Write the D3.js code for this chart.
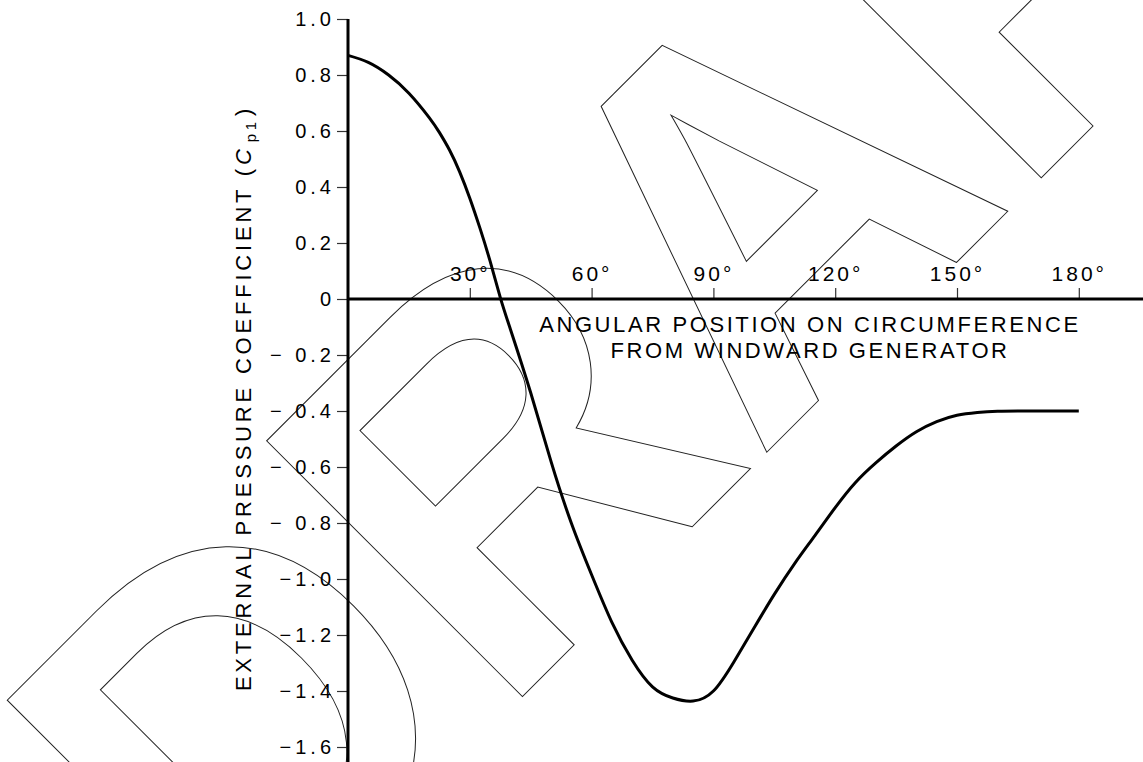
<!DOCTYPE html>
<html>
<head>
<meta charset="utf-8">
<script src="https://cdn.jsdelivr.net/npm/d3@7"></script>
<style>
  html, body { margin: 0; padding: 0; background: #fff; }
  svg { display: block; }
</style>
</head>
<body>
<svg id="chart" width="1143" height="762"></svg>
<script>
// ---- data ----
const angles = [0, 5, 10, 15, 20, 22.5, 25, 27.5, 30, 32.5, 35, 37.5, 40, 45, 50, 55, 60, 65, 70, 75, 80, 85, 90, 95, 100, 105, 110, 115, 120, 125, 130, 135, 140, 145, 150, 155, 160, 170, 180];
const cpValues = [0.87, 0.845, 0.8, 0.735, 0.648, 0.595, 0.532, 0.454, 0.36, 0.253, 0.135, 0.006, -0.108, -0.335, -0.58, -0.8, -0.985, -1.155, -1.29, -1.385, -1.425, -1.436, -1.4, -1.297, -1.175, -1.055, -0.945, -0.845, -0.745, -0.655, -0.585, -0.525, -0.474, -0.438, -0.415, -0.405, -0.401, -0.4, -0.4];
const xTickValues = [30, 60, 90, 120, 150, 180];
const xTickLabels = ["30°", "60°", "90°", "120°", "150°", "180°"];
const yTickValues = [1.0, 0.8, 0.6, 0.4, 0.2, 0, -0.2, -0.4, -0.6, -0.8, -1.0, -1.2, -1.4, -1.6];
const yTickLabels = ["1.0", "0.8", "0.6", "0.4", "0.2", "0", "\u2212 0.2", "\u2212 0.4", "\u2212 0.6", "\u2212 0.8", "\u22121.0", "\u22121.2", "\u22121.4", "\u22121.6"];
const xTitleLines = ["ANGULAR POSITION ON CIRCUMFERENCE", "FROM WINDWARD GENERATOR"];
const watermarkText = "DRAFT";

// ---- layout ----
const svg = d3.select("#chart");
const W = 1143, H = 762;
const x0 = 348;
const x = d3.scaleLinear().domain([0, 180]).range([x0, x0 + 6 * 121.8]);
const y = d3.scaleLinear().domain([-1.6, 1.0]).range([747, 19]);
const font = "'Liberation Sans', Arial, sans-serif";

// watermark
svg.append("text")
  .attr("transform", "translate(239,980) rotate(-45) scale(1,1.035)")
  .attr("font-family", font)
  .attr("font-weight", "bold")
  .attr("font-size", 508)
  .attr("fill", "none")
  .attr("stroke", "#222")
  .attr("stroke-width", 1)
  .attr("vector-effect", "non-scaling-stroke")
  .text(watermarkText);

// y axis
const yAxis = d3.axisLeft(y)
  .tickValues(yTickValues)
  .tickSize(11)
  .tickPadding(2)
  .tickFormat((d, i) => yTickLabels[i]);
const gy = svg.append("g").attr("transform", `translate(${x0},0)`).call(yAxis);
gy.select(".domain").remove();
gy.selectAll(".tick line").attr("stroke", "#333").attr("stroke-width", 1.2);
gy.selectAll(".tick text")
  .attr("font-family", font)
  .attr("font-size", 20)
  .attr("fill", "#000")
  .style("letter-spacing", "4px");

// x axis (ticks upward, labels above)
const xAxis = d3.axisTop(x)
  .tickValues(xTickValues)
  .tickSize(11)
  .tickPadding(7)
  .tickFormat((d, i) => xTickLabels[i]);
const gx = svg.append("g").attr("transform", `translate(0,${y(0)})`).call(xAxis);
gx.select(".domain").remove();
gx.selectAll(".tick line").attr("stroke", "#333").attr("stroke-width", 1.2);
gx.selectAll(".tick text")
  .attr("font-family", font)
  .attr("font-size", 21)
  .attr("fill", "#000")
  .style("letter-spacing", "3px");

// axis lines
svg.append("line")
  .attr("x1", x0).attr("x2", x0)
  .attr("y1", y(1.0)).attr("y2", H)
  .attr("stroke", "#000").attr("stroke-width", 3);
svg.append("line")
  .attr("x1", x0).attr("x2", W)
  .attr("y1", y(0)).attr("y2", y(0))
  .attr("stroke", "#000").attr("stroke-width", 3);

// curve
const line = d3.line()
  .x((d, i) => x(angles[i]))
  .y(d => y(d))
  .curve(d3.curveNatural);
svg.append("path")
  .datum(cpValues)
  .attr("d", line)
  .attr("fill", "none")
  .attr("stroke", "#000")
  .attr("stroke-width", 3)
  .attr("stroke-linejoin", "round");

// x title
svg.selectAll(".xtitle")
  .data(xTitleLines)
  .enter().append("text")
  .attr("class", "xtitle")
  .attr("x", 810)
  .attr("y", (d, i) => 332 + i * 26)
  .attr("text-anchor", "middle")
  .attr("font-family", font)
  .attr("font-size", 22)
  .style("letter-spacing", "2.6px")
  .attr("fill", "#000")
  .text(d => d);

// y title
const yt = svg.append("text")
  .attr("transform", "translate(251,398) rotate(-90)")
  .attr("text-anchor", "middle")
  .attr("font-family", font)
  .attr("font-size", 22)
  .style("letter-spacing", "3.8px")
  .attr("fill", "#000");
yt.append("tspan").text("EXTERNAL PRESSURE COEFFICIENT (");
yt.append("tspan").attr("font-style", "italic").text("C");
yt.append("tspan").attr("font-size", 15).attr("dy", 5).attr("dx", 3).text("p1");
yt.append("tspan").attr("dy", -5).attr("dx", 2).text(")");
</script>
</body>
</html>
